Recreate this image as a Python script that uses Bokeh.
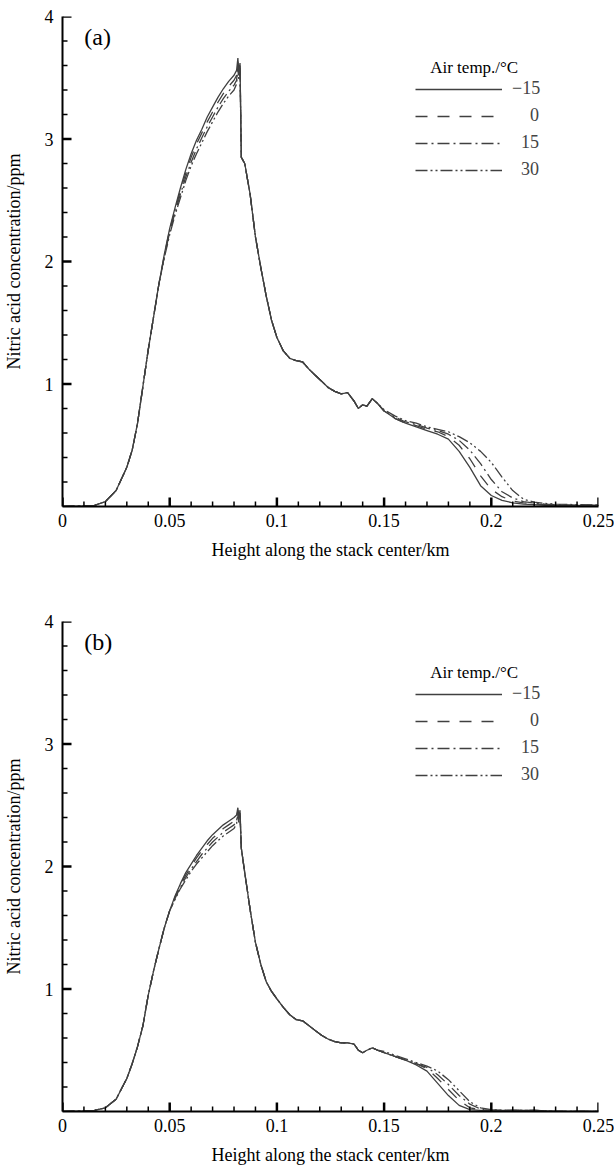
from math import pi
from bokeh.plotting import figure
from bokeh.models import Range1d, FixedTicker, Legend, LegendItem, Label
from bokeh.layouts import column
from bokeh.embed import file_html
from bokeh.resources import INLINE

FONT = "Liberation Serif"

# ---------------- data ----------------
x_ticks = [0, 0.05, 0.1, 0.15, 0.2, 0.25]
x_tick_labels = ["0", "0.05", "0.1", "0.15", "0.2", "0.25"]
x_minor = [i / 100 for i in range(26) if i % 5 != 0]
y_ticks = [1, 2, 3, 4]
y_minor = [i / 5 for i in range(1, 21) if i % 5 != 0]
temps = ["\u221215", "\u2002\u20020", "\u200215", "\u200230"]
legend_title = "Air temp./\u00b0C"

x_km = [0, 0.01, 0.015, 0.02, 0.025,
        0.03, 0.0325, 0.035, 0.0375, 0.04,
        0.0425, 0.045, 0.0475, 0.05, 0.0525,
        0.055, 0.0575, 0.06, 0.0625, 0.065,
        0.0675, 0.07, 0.0725, 0.075, 0.0775,
        0.08, 0.0812, 0.0818, 0.0822, 0.0828,
        0.0834, 0.085, 0.0875, 0.09, 0.0925,
        0.095, 0.0975, 0.1, 0.103, 0.106,
        0.109, 0.112, 0.115, 0.118, 0.121,
        0.124, 0.127, 0.13, 0.133, 0.136,
        0.138, 0.14, 0.142, 0.1445, 0.147,
        0.15, 0.155, 0.16, 0.165, 0.17,
        0.175, 0.18, 0.185, 0.19, 0.195,
        0.2, 0.205, 0.21, 0.215, 0.22,
        0.225, 0.23, 0.24, 0.25]

# panel (a)
a_m15 = [0.0, 0.005, 0.01, 0.04, 0.13,
         0.32, 0.46, 0.68, 0.98, 1.28,
         1.55, 1.82, 2.06, 2.27, 2.44,
         2.60, 2.75, 2.88, 2.99, 3.08,
         3.18, 3.26, 3.34, 3.41, 3.47,
         3.52, 3.56, 3.66, 3.55, 3.62,
         2.85, 2.80, 2.55, 2.20, 1.95,
         1.72, 1.52, 1.38, 1.27, 1.21,
         1.19, 1.18, 1.12, 1.07, 1.02,
         0.97, 0.94, 0.92, 0.93, 0.86,
         0.80, 0.83, 0.82, 0.88, 0.84,
         0.78, 0.72, 0.68, 0.65, 0.62,
         0.59, 0.55, 0.45, 0.32, 0.17,
         0.09, 0.05, 0.03, 0.02, 0.015,
         0.01, 0.01, 0.01, 0.01]
a_0 = [0.0, 0.005, 0.01, 0.04, 0.13,
       0.32, 0.46, 0.68, 0.98, 1.28,
       1.55, 1.82, 2.05, 2.26, 2.42,
       2.58, 2.72, 2.85, 2.96, 3.05,
       3.14, 3.22, 3.30, 3.37, 3.43,
       3.48, 3.52, 3.63, 3.53, 3.60,
       2.85, 2.80, 2.55, 2.20, 1.95,
       1.72, 1.52, 1.38, 1.27, 1.21,
       1.19, 1.18, 1.12, 1.07, 1.02,
       0.97, 0.94, 0.92, 0.93, 0.86,
       0.80, 0.83, 0.82, 0.88, 0.84,
       0.78, 0.72, 0.68, 0.66, 0.63,
       0.61, 0.57, 0.50, 0.39, 0.25,
       0.14, 0.08, 0.045, 0.03, 0.02,
       0.015, 0.01, 0.01, 0.01]
a_15 = [0.0, 0.005, 0.01, 0.04, 0.13,
        0.32, 0.46, 0.68, 0.98, 1.28,
        1.55, 1.82, 2.04, 2.24, 2.40,
        2.55, 2.69, 2.81, 2.92, 3.01,
        3.10, 3.18, 3.26, 3.33, 3.39,
        3.44, 3.48, 3.61, 3.51, 3.58,
        2.85, 2.80, 2.55, 2.20, 1.95,
        1.72, 1.52, 1.38, 1.27, 1.21,
        1.19, 1.18, 1.12, 1.07, 1.02,
        0.97, 0.94, 0.92, 0.93, 0.86,
        0.80, 0.83, 0.82, 0.88, 0.84,
        0.78, 0.73, 0.69, 0.67, 0.64,
        0.62, 0.59, 0.54, 0.46, 0.35,
        0.22, 0.12, 0.07, 0.04, 0.028,
        0.02, 0.015, 0.012, 0.01]
a_30 = [0.0, 0.005, 0.01, 0.04, 0.13,
        0.32, 0.46, 0.68, 0.98, 1.28,
        1.55, 1.82, 2.03, 2.22, 2.38,
        2.52, 2.66, 2.78, 2.88, 2.97,
        3.06, 3.14, 3.22, 3.29, 3.35,
        3.40, 3.45, 3.59, 3.49, 3.56,
        2.85, 2.80, 2.55, 2.20, 1.95,
        1.72, 1.52, 1.38, 1.27, 1.21,
        1.19, 1.18, 1.12, 1.07, 1.02,
        0.97, 0.94, 0.92, 0.93, 0.86,
        0.80, 0.83, 0.82, 0.88, 0.84,
        0.79, 0.74, 0.70, 0.68, 0.65,
        0.63, 0.61, 0.57, 0.52, 0.45,
        0.36, 0.24, 0.13, 0.06, 0.035,
        0.025, 0.02, 0.015, 0.012]

# panel (b)
b_m15 = [0.0, 0.005, 0.01, 0.03, 0.10,
         0.27, 0.39, 0.53, 0.70, 0.95,
         1.15, 1.33, 1.50, 1.64, 1.76,
         1.86, 1.95, 2.02, 2.09, 2.15,
         2.21, 2.26, 2.30, 2.34, 2.37,
         2.40, 2.42, 2.48, 2.40, 2.46,
         2.15, 1.95, 1.65, 1.38, 1.20,
         1.06, 0.98, 0.92, 0.85, 0.79,
         0.75, 0.74, 0.70, 0.66, 0.62,
         0.59, 0.57, 0.56, 0.56, 0.55,
         0.50, 0.48, 0.50, 0.52, 0.50,
         0.48, 0.45, 0.42, 0.38, 0.33,
         0.23, 0.13, 0.05, 0.015, 0.01,
         0.01, 0.01, 0.01, 0.01, 0.01,
         0.005, 0.0, 0.0, 0.0]
b_0 = [0.0, 0.005, 0.01, 0.03, 0.10,
       0.27, 0.39, 0.53, 0.70, 0.95,
       1.15, 1.33, 1.50, 1.64, 1.75,
       1.85, 1.93, 2.00, 2.07, 2.13,
       2.18, 2.23, 2.27, 2.31, 2.34,
       2.37, 2.39, 2.46, 2.38, 2.44,
       2.15, 1.95, 1.65, 1.38, 1.20,
       1.06, 0.98, 0.92, 0.85, 0.79,
       0.75, 0.74, 0.70, 0.66, 0.62,
       0.59, 0.57, 0.56, 0.56, 0.55,
       0.50, 0.48, 0.50, 0.52, 0.50,
       0.48, 0.45, 0.42, 0.39, 0.35,
       0.27, 0.18, 0.09, 0.03, 0.015,
       0.01, 0.01, 0.01, 0.01, 0.01,
       0.005, 0.0, 0.0, 0.0]
b_15 = [0.0, 0.005, 0.01, 0.03, 0.10,
        0.27, 0.39, 0.53, 0.70, 0.95,
        1.15, 1.33, 1.50, 1.64, 1.74,
        1.83, 1.91, 1.98, 2.04, 2.10,
        2.15, 2.20, 2.24, 2.28, 2.31,
        2.34, 2.37, 2.45, 2.37, 2.43,
        2.15, 1.95, 1.65, 1.38, 1.20,
        1.06, 0.98, 0.92, 0.85, 0.79,
        0.75, 0.74, 0.70, 0.66, 0.62,
        0.59, 0.57, 0.56, 0.56, 0.55,
        0.50, 0.48, 0.50, 0.52, 0.50,
        0.48, 0.45, 0.42, 0.39, 0.36,
        0.30, 0.22, 0.13, 0.06, 0.02,
        0.012, 0.01, 0.01, 0.01, 0.01,
        0.005, 0.0, 0.0, 0.0]
b_30 = [0.0, 0.005, 0.01, 0.03, 0.10,
        0.27, 0.39, 0.53, 0.70, 0.95,
        1.15, 1.33, 1.50, 1.64, 1.73,
        1.82, 1.89, 1.96, 2.02, 2.07,
        2.12, 2.17, 2.21, 2.25, 2.28,
        2.31, 2.35, 2.44, 2.36, 2.42,
        2.15, 1.95, 1.65, 1.38, 1.20,
        1.06, 0.98, 0.92, 0.85, 0.79,
        0.75, 0.74, 0.70, 0.66, 0.62,
        0.59, 0.57, 0.56, 0.56, 0.55,
        0.50, 0.48, 0.50, 0.52, 0.50,
        0.49, 0.46, 0.43, 0.40, 0.37,
        0.33, 0.26, 0.17, 0.08, 0.03,
        0.015, 0.01, 0.01, 0.01, 0.01,
        0.005, 0.0, 0.0, 0.0]

dashes = ["solid", "12 10", "12 4 2 4", "12 3 2 3 2 3"]
LINE_COLOR = "#404040"
TICK_COLOR = "black"


def make_panel(tag, series, height, bottom_border):
    p = figure(width=614, height=height,
               x_range=Range1d(0, 0.25), y_range=Range1d(0, 4),
               output_backend="svg", toolbar_location=None,
               min_border_left=60, min_border_right=16,
               min_border_top=16, min_border_bottom=bottom_border)
    p.outline_line_color = None
    p.grid.visible = False
    p.background_fill_color = "white"
    p.border_fill_color = "white"

    renderers = []
    for ys, dash in zip(series, dashes):
        r = p.line(x_km, ys, line_color=LINE_COLOR, line_width=1.3,
                   line_dash=dash)
        renderers.append(r)

    # inward tick marks (drawn inside the frame)
    p.ray(x=x_ticks, y=[0] * len(x_ticks), length=9, angle=pi / 2,
          length_units="screen", line_color=TICK_COLOR, line_width=2.5)
    p.ray(x=x_minor, y=[0] * len(x_minor), length=5, angle=pi / 2,
          length_units="screen", line_color=TICK_COLOR, line_width=1.5)
    p.ray(x=[0] * len(y_ticks), y=y_ticks, length=9, angle=0,
          length_units="screen", line_color=TICK_COLOR, line_width=2.5)
    p.ray(x=[0] * len(y_minor), y=y_minor, length=5, angle=0,
          length_units="screen", line_color=TICK_COLOR, line_width=1.5)

    # x axis
    xa = p.xaxis[0]
    xa.ticker = FixedTicker(ticks=x_ticks, minor_ticks=x_minor)
    xa.major_label_overrides = dict(zip(x_ticks, x_tick_labels))
    xa.axis_label = "Height along the stack center/km"
    # y axis
    ya = p.yaxis[0]
    ya.ticker = FixedTicker(ticks=y_ticks, minor_ticks=y_minor)
    ya.axis_label = "Nitric acid concentration/ppm"

    for ax in (xa, ya):
        ax.axis_line_width = 2
        ax.axis_line_color = "black"
        ax.major_tick_in = 0
        ax.major_tick_out = 0
        ax.minor_tick_in = 0
        ax.minor_tick_out = 0
        ax.major_label_text_font = FONT
        ax.major_label_text_font_size = "18px"
        ax.major_label_text_color = "black"
        ax.axis_label_text_font = FONT
        ax.axis_label_text_font_size = "18px"
        ax.axis_label_text_font_style = "normal"
        ax.axis_label_text_color = "black"
    xa.major_label_standoff = 7
    xa.axis_label_standoff = 10
    ya.major_label_standoff = 9
    ya.axis_label_standoff = 18

    p.add_layout(Label(x=0.0102, y=3.83, text=tag, text_font=FONT,
                       text_font_size="24px", text_baseline="middle",
                       text_color="black"))
    p.add_layout(Label(x=0.1715, y=3.584, text=legend_title, text_font=FONT,
                       text_font_size="17px", text_baseline="middle",
                       text_color="black"))

    legend = Legend(
        items=[LegendItem(label=t, renderers=[r]) for t, r in zip(temps, renderers)],
        location=(353, 326),
        glyph_width=87, glyph_height=20, label_height=20,
        spacing=6, padding=0, margin=0, label_standoff=10,
        border_line_color=None, background_fill_alpha=0,
        label_text_font=FONT, label_text_font_size="18px",
    )
    p.add_layout(legend)
    return p


pa = make_panel("(a)", [a_m15, a_0, a_15, a_30], 605, 99)
pb = make_panel("(b)", [b_m15, b_0, b_15, b_30], 567, 61)

layout = column(pa, pb, spacing=0)
open("out.html", "w").write(file_html(layout, INLINE))
